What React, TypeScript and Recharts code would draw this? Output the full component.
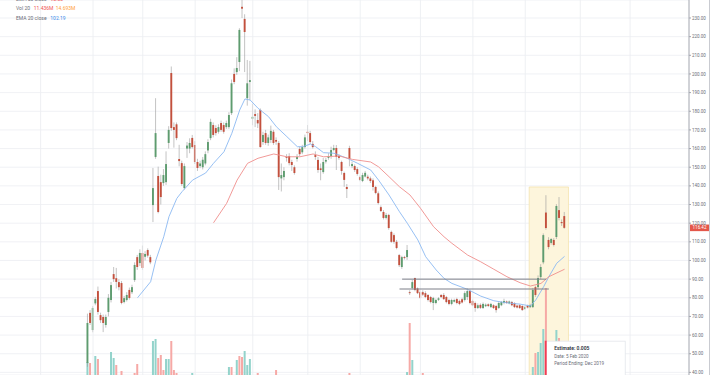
import React from 'react';
import {
  ComposedChart, Bar, Line, XAxis, YAxis, CartesianGrid,
  ReferenceArea, ReferenceLine, ReferenceDot,
} from 'recharts';

// ---- data ----
const LEAD = 33; // empty slots before first candle
const TRAIL = 47; // empty slots after last candle

// [open, high, low, close]
const ohlc: [number, number, number, number][] = [
  [45, 71.5, 43, 66.5], [71.9, 73.4, 65.4, 66.5], [62.7, 75.5, 61.5, 74.5], [77, 80.5, 76, 79.3], [83.6, 86, 71, 72.4],
  [70.7, 72, 66.5, 68], [69.7, 71, 61.6, 66.5], [65.4, 71, 64, 69.7], [72.4, 82, 70, 80], [78.8, 88.5, 77.5, 86.8],
  [92.7, 96.5, 88.5, 90], [90.5, 96, 85, 88.5], [88.4, 90, 84, 85.7], [87.9, 89, 76.5, 77.2], [77.7, 81, 77, 79.8],
  [78.8, 83, 78, 81.5], [84.2, 85.5, 79, 79.9], [83, 87, 82, 85.7], [89.5, 99, 88.5, 97.6], [101.8, 103, 95, 96.5],
  [98.6, 106, 97, 104], [104, 108, 95, 96], [102, 105, 100, 103.5], [105.6, 106.5, 101.5, 102.6], [101.8, 103, 98, 99],
  [129.7, 149.6, 120.6, 138.8], [155.5, 187, 154.5, 168.3], [145.3, 150.3, 125.3, 126], [142, 146, 130, 134], [141.5, 149, 140, 145.8],
  [142, 158.5, 140.5, 151.7], [163, 172, 160, 170], [200.5, 204, 169.5, 171], [171.5, 174, 160.5, 170], [173, 174, 164.5, 165.6],
  [154.4, 162, 150.5, 153.3], [152.2, 153.5, 140, 141], [138.8, 152, 138, 150.6], [160, 163.5, 155, 161.6], [160, 165.5, 157.5, 163],
  [165.7, 167.3, 160, 160.8], [161.9, 164, 151.7, 152.8], [152.8, 154.5, 148, 149.6], [150.6, 153.5, 149.5, 152], [150, 155.5, 148.8, 154],
  [152, 158.5, 151, 157], [159, 165, 157.5, 163.5], [165.6, 176, 164.5, 174.3], [172.6, 174, 166, 167.3], [171, 172.5, 167, 168.3],
  [169, 173, 168, 171.5], [173.7, 175, 169, 170], [172.6, 174, 168, 169], [171.5, 175, 170.5, 173.7], [171.5, 179.5, 170.5, 178],
  [179, 197, 178, 195], [200, 203, 194.5, 195.7], [201, 209, 199.5, 203.2], [206.4, 224.5, 201.5, 223.6], [236, 240, 230, 235],
  [229.5, 232, 201, 222.5], [187, 207.5, 183, 195], [195.7, 207, 186, 196.7], [176, 184, 172.5, 177], [178.5, 181, 171.5, 177.5],
  [175.3, 179, 171, 173.5], [180.7, 181.5, 160.5, 160.8], [163.5, 169, 162, 167.3], [168.3, 170, 162, 163], [163, 167.5, 161.5, 166],
  [164.6, 172.3, 163, 169.5], [169, 170, 162, 163], [164.6, 166, 162, 163.7], [163, 164, 137.8, 144.7], [144, 152, 137, 145.8],
  [144.7, 150, 143, 148], [155.5, 157, 153, 155], [156, 157.5, 151, 152.2], [152.8, 154, 148, 151.2], [150, 151, 146, 146.9],
  [154.4, 157, 153, 155.5], [159.8, 161, 156, 157], [158, 162, 157, 160.8], [160.8, 167.5, 160, 166], [169, 172.6, 164, 168.3],
  [168.3, 169.5, 162.5, 163.5], [162.5, 164, 160, 160.8], [156.5, 158.5, 154, 155.5], [153.9, 155.5, 147, 148.5], [149.4, 152, 143, 148.5],
  [147.4, 155, 146.5, 152.8], [153, 155, 152, 153.9], [155, 157.5, 154, 156], [156, 161, 154.5, 159.2], [159.2, 162, 158.5, 160.3],
  [160.3, 161.9, 148.5, 155.5], [156, 157, 154, 155], [152.8, 153.5, 146, 148], [146.9, 147.6, 139.5, 143.2], [139.4, 141, 133.5, 138.3],
  [160.3, 161.5, 150.5, 154.4], [150.6, 153, 149.5, 151.7], [150.6, 151.5, 147.5, 148.5], [149, 150, 145.5, 146.4], [144.7, 145.5, 142.5, 143.2],
  [142.6, 147, 142, 145.8], [145, 148, 144.5, 147], [144.9, 146, 143, 144], [144, 145, 141.5, 142.6], [143, 144, 137.5, 139.4],
  [139.4, 140, 135.5, 136.2], [136, 137, 130, 130.8], [128.6, 129.5, 126, 126.5], [126, 127, 122, 122.8], [122.8, 125.5, 122, 124.4],
  [124.4, 125, 116.5, 117.4], [115.3, 116, 109.5, 110], [113.6, 114.5, 109, 110], [110, 111, 106, 106.7], [102.9, 103.5, 96.5, 97.5],
  [96.5, 102.5, 95.5, 101.8], [101.8, 102.5, 100.5, 101.3], [101.8, 108.3, 100.3, 105.6], [83, 84, 81.5, 82.5], [85.2, 89.5, 84.5, 88.4],
  [90.6, 90.8, 83.5, 84.2], [85, 85.5, 82, 82.5], [83, 84, 79.5, 80], [83, 84, 81, 81.7], [82.5, 83.5, 79.8, 80.4],
  [81.5, 82, 78, 78.8], [80.4, 81, 77, 77.7], [77.2, 80.5, 73.4, 79.9], [77.2, 79.5, 76.5, 78.8], [78.9, 80.3, 78.3, 79.7],
  [81.5, 82, 79.8, 80.4], [81.5, 82.5, 78.8, 79.3], [80.4, 81, 77, 77.7], [78.8, 79.5, 76, 76.7], [76.7, 79.5, 76, 78.8],
  [77.9, 79.5, 77.5, 78.8], [79.3, 80, 76.5, 77.2], [78.3, 79, 76, 76.7], [79.2, 80, 77, 77.5], [78.8, 83.5, 78, 82.5],
  [80.4, 85, 78.8, 83.6], [83.6, 84.5, 76.5, 77.2], [78.3, 79, 75.5, 76], [77.2, 78, 72.5, 74.5], [74.5, 77, 74, 76],
  [76.2, 77, 74, 74.6], [74.5, 77.5, 74, 76.7], [75.5, 77, 75, 76.3], [76.5, 77, 75, 75.6], [75, 77.3, 74.5, 76.7],
  [76, 76.5, 74, 74.5], [75.6, 76.2, 72, 73.4], [74.5, 77.8, 74, 77.2], [76, 78.3, 75.5, 77.7], [77.2, 79.5, 76.5, 78.3],
  [78, 78.5, 76.8, 77.2], [77, 78.5, 76.5, 78], [77.7, 78.3, 75.5, 76], [77.2, 77.6, 74.5, 75], [75.8, 76.3, 74.3, 74.8],
  [76, 76.5, 74, 74.5], [75.6, 76, 73, 73.4], [74, 75.6, 73.5, 75], [75.8, 76.3, 74.3, 74.8], [75, 76.8, 74.5, 76],
  [75, 85.3, 74.5, 84.2], [85.7, 86.5, 80.5, 81.5], [85.7, 92, 84.5, 90.6], [91.1, 98, 90, 96.5], [99, 114.5, 98, 113.6],
  [125.7, 135, 116.5, 117.4], [111, 112.5, 106, 107.2], [109.4, 112, 108.5, 111.5], [111, 112, 107.5, 108.3], [112.6, 130.2, 111.5, 129.2],
  [127, 134, 121.5, 122.8], [120.6, 122, 118.5, 120], [123.8, 126, 117, 117.5],
];

// [candle index, visible volume (M), up?]
const volumeBars: [number, number, boolean][] = [
  [0, 6.5, true], [1, 6, false], [3, 9.5, true], [4, 8, false], [9, 11.5, true], [10, 8.5, true], [11, 5, false],
  [13, 2, false], [18, 1, false], [19, 5.5, false], [25, 17, true], [26, 18, true], [27, 8.5, false], [28, 10, false],
  [29, 2.5, false], [30, 8, true], [31, 8, true], [32, 17, false], [33, 2.5, false], [34, 1, false], [40, 1, true],
  [54, 4, true], [55, 4, false], [57, 7.5, true], [58, 9.5, false], [59, 9, false], [60, 12, true], [61, 5, true],
  [62, 8, true], [65, 1, false], [72, 2.5, false], [100, 1, false], [122, 1.5, true], [123, 26, false], [124, 7.5, true],
  [128, 1, false], [170, 4, true], [171, 11, false], [172, 11.5, true], [173, 16, true], [174, 23, true], [175, 43.5, false],
  [176, 10, false], [177, 10, true], [178, 12, false], [179, 22.5, true], [180, 18.5, false], [181, 12, false], [182, 12, false],
];

// [candle index, value]
const ema20Points: [number, number][] = [
  [19, 80.0], [24, 88.6], [26, 100.2], [29, 112.7], [31, 123.5], [34, 133.3], [36, 136.9], [40, 143.1], [45, 146.9],
  [48, 152.1], [52, 158.3], [55, 168.2], [58, 180.7], [60, 186.6], [62, 186.0], [65, 181.6], [69, 177.1], [72, 171.7],
  [76, 166.4], [80, 161], [82, 161], [85, 162.4], [87, 161], [90, 157.8], [94, 157.5], [99, 154.8], [103, 152.1],
  [108, 148.5], [111, 143.1], [115, 135.1], [119, 126.1], [122, 119.9], [126, 111], [129, 102], [133, 94.9], [136, 90.4],
  [139, 87.7], [145, 84.5], [150, 80.9], [155, 78.4], [160, 77.3], [165, 76.6], [169, 75.6], [171, 78.8], [174, 85.9],
  [176, 91.3], [179, 98.5], [182, 102.2],
];
const ema50Points: [number, number][] = [
  [48, 120.2], [53, 130.6], [57, 143.1], [61, 152.1], [65, 154.8], [71, 157.1], [76, 155.6], [81, 155.6], [86, 157.1],
  [90, 155.6], [96, 156], [101, 154.2], [108, 152.8], [111, 150.2], [115, 144.9], [119, 139.5], [123, 135.1], [127, 128],
  [132, 118.1], [136, 112.7], [139, 109.2], [145, 102.9], [150, 99.3], [155, 95.3], [160, 91.3], [165, 88.1], [169, 86.3],
  [173, 87.7], [176, 91.3], [182, 95.3],
];

const monthSlots = [15, 35, 54, 74, 96, 117, 137, 160, 180, 200, 221, 240];
const yTicks = [40, 50, 60, 70, 80, 90, 100, 110, 120, 130, 140, 150, 160, 170, 180, 190, 200, 210, 220, 230];

const UP = '#5e9c6f';
const DOWN = '#c3503d';
const WICK = '#9a9a9a';
const GRID = '#eceef2';

type Row = {
  slot: number; range: [number, number] | null; o: number | null; h: number | null; l: number | null; c: number | null;
  vol: number | null; volUp: boolean; ema20: number | null; ema50: number | null;
};

const data: Row[] = [];
for (let s = 0; s < LEAD + ohlc.length + TRAIL; s++) {
  const i = s - LEAD;
  const k = ohlc[i];
  data.push({
    slot: s,
    range: k ? [k[2], k[1]] : null,
    o: k ? k[0] : null, h: k ? k[1] : null, l: k ? k[2] : null, c: k ? k[3] : null,
    vol: null, volUp: true, ema20: null, ema50: null,
  });
}
volumeBars.forEach(([i, v, up]) => { data[i + LEAD].vol = v; data[i + LEAD].volUp = up; });
ema20Points.forEach(([i, v]) => { data[i + LEAD].ema20 = v; });
ema50Points.forEach(([i, v]) => { data[i + LEAD].ema50 = v; });

const CandleShape = (props: any) => {
  const { x, y, width, height, payload } = props;
  if (!payload || payload.o == null || x == null) return null;
  const { o, h, l, c } = payload;
  const top0 = Math.min(y, y + height);
  const hh = Math.abs(height);
  const cx = x + width / 2;
  const span = h - l;
  const py = (v: number) => (span === 0 ? top0 : top0 + ((h - v) / span) * hh);
  const up = c >= o;
  const bt = py(Math.max(o, c));
  const bb = py(Math.min(o, c));
  return (
    <g>
      <line x1={cx} x2={cx} y1={top0} y2={top0 + hh} stroke={WICK} strokeWidth={0.6} />
      <rect x={cx - 0.95} y={bt} width={1.9} height={Math.max(bb - bt, 0.7)} fill={up ? UP : DOWN} />
    </g>
  );
};

const VolumeShape = (props: any) => {
  const { x, y, width, height, payload } = props;
  if (!payload || payload.vol == null || x == null) return null;
  const top0 = Math.min(y, y + height);
  return <rect x={x} y={top0} width={width} height={Math.abs(height)} fill={payload.volUp ? '#93d3cb' : '#f6a9a6'} />;
};

const TooltipShape = (props: any) => {
  const { cx, cy } = props;
  if (cx == null) return null;
  const x = cx - 1.5;
  return (
    <g>
      <rect x={x + 0.5} y={cy + 0.5} width={80} height={40} fill="#ffffff" stroke="#e3e5ea" strokeWidth={0.8} />
      <rect x={x} y={cy} width={2} height={40} fill="#f23c55" />
      <text x={x + 9.5} y={cy + 9.5} fontSize={5} fill="#2a2e39" fontWeight={600} fontFamily="Roboto, sans-serif">Estimate: 0.005</text>
      <text x={x + 9.5} y={cy + 17.5} fontSize={4.6} fill="#6a6d78" fontFamily="Roboto, sans-serif">Date: 5 Feb 2020</text>
      <text x={x + 9.5} y={cy + 24} fontSize={4.6} fill="#6a6d78" fontFamily="Roboto, sans-serif">Period Ending: Dec 2019</text>
    </g>
  );
};

const PriceTag = (props: any) => {
  const vb = props.viewBox;
  if (!vb) return null;
  const x = vb.x + vb.width + 1;
  const y = vb.y;
  return (
    <g>
      <rect x={x} y={y - 3.3} width={19} height={6.6} fill="#e4574a" />
      <text x={x + 9.5} y={y} fontSize={4.5} fill="#ffffff" textAnchor="middle" dominantBaseline="central" fontFamily="Roboto, sans-serif">116.42</text>
    </g>
  );
};

const Legend = () => (
  <svg width={200} height={30} style={{ position: 'absolute', left: 0, top: 0, pointerEvents: 'none' }}>
    <g fontSize={5} fontFamily="Roboto, sans-serif" dominantBaseline="central">
      <text x={16} y={-1.2} fill="#6a6d78">EMA 50 close</text>
      <text x={50.5} y={-1.2} fill="#ef5350">95.33</text>
      <text x={16} y={7.5} fill="#6a6d78">Vol 20</text>
      <text x={33.7} y={7.5} fill="#ef5350">11.436M</text>
      <text x={55.7} y={7.5} fill="#ff9f3a">14.693M</text>
      <text x={16} y={17.7} fill="#6a6d78">EMA 20 close</text>
      <text x={50.3} y={17.7} fill="#3d8bea">102.19</text>
    </g>
  </svg>
);

export default function App() {
  return (
    <div style={{ position: 'absolute', left: 0, top: 0, width: 710, height: 375, background: '#fff', overflow: 'hidden' }}>
      <div style={{ position: 'absolute', left: 709, top: 0, width: 1, height: 375, background: '#c9cbd1' }} />
      <ComposedChart
        width={709}
        height={375}
        data={data}
        margin={{ top: 0, right: 0, bottom: 0, left: 0 }}
        barGap={-2}
        barCategoryGap={0}
      >
        <CartesianGrid stroke={GRID} strokeWidth={0.8} yAxisId="p" vertical={false} />
        <XAxis
          dataKey="slot"
          type="category"
          interval={0}
          height={0}
          tick={false}
          tickLine={false}
          axisLine={false}
        />
        <YAxis
          yAxisId="p"
          orientation="right"
          domain={[38.6, 239.65]}
          allowDataOverflow
          ticks={yTicks}
          interval={0}
          width={20}
          tickSize={2}
          tickMargin={1}
          tick={{ fontSize: 4.5, fill: '#6b6e78', fontFamily: 'Roboto, sans-serif', textAnchor: 'start' }}
          tickFormatter={(v: number) => v.toFixed(2)}
          axisLine={{ stroke: '#a3a6af' }}
          tickLine={{ stroke: '#a3a6af' }}
        />
        <YAxis yAxisId="v" hide domain={[0, 187.5]} allowDataOverflow />
        {monthSlots.map((s) => (
          <ReferenceLine key={s} yAxisId="p" x={s} stroke={GRID} strokeWidth={0.9} />
        ))}
        <ReferenceArea
          yAxisId="p"
          x1={169 + LEAD}
          x2={183 + LEAD}
          y1={38.6}
          y2={139.4}
          fill="#fdf5dc"
          fillOpacity={1}
          stroke="#f5e4ae"
          strokeWidth={0.8}
          ifOverflow="extendDomain"
        />
        <Bar yAxisId="v" dataKey="vol" barSize={2} shape={VolumeShape} isAnimationActive={false} />
        <Bar yAxisId="p" dataKey="range" barSize={2} shape={CandleShape} isAnimationActive={false} />
        <Line yAxisId="p" dataKey="ema20" stroke="#8bb9f2" strokeWidth={0.9} dot={false} connectNulls isAnimationActive={false} />
        <Line yAxisId="p" dataKey="ema50" stroke="#ef8f8c" strokeWidth={0.9} dot={false} connectNulls isAnimationActive={false} />
        <ReferenceLine
          yAxisId="p"
          segment={[{ x: 120 + LEAD, y: 90 }, { x: 175 + LEAD, y: 90 }]}
          stroke="#7c7f88"
          strokeWidth={1}
        />
        <ReferenceLine
          yAxisId="p"
          segment={[{ x: 119 + LEAD, y: 84.7 }, { x: 176 + LEAD, y: 84.7 }]}
          stroke="#7c7f88"
          strokeWidth={1}
        />
        <ReferenceLine yAxisId="p" y={117.5} stroke="none" strokeOpacity={0} label={<PriceTag />} />
        <ReferenceDot yAxisId="p" x={175 + LEAD} y={57} r={0} shape={TooltipShape} />
      </ComposedChart>
      <Legend />
    </div>
  );
}
